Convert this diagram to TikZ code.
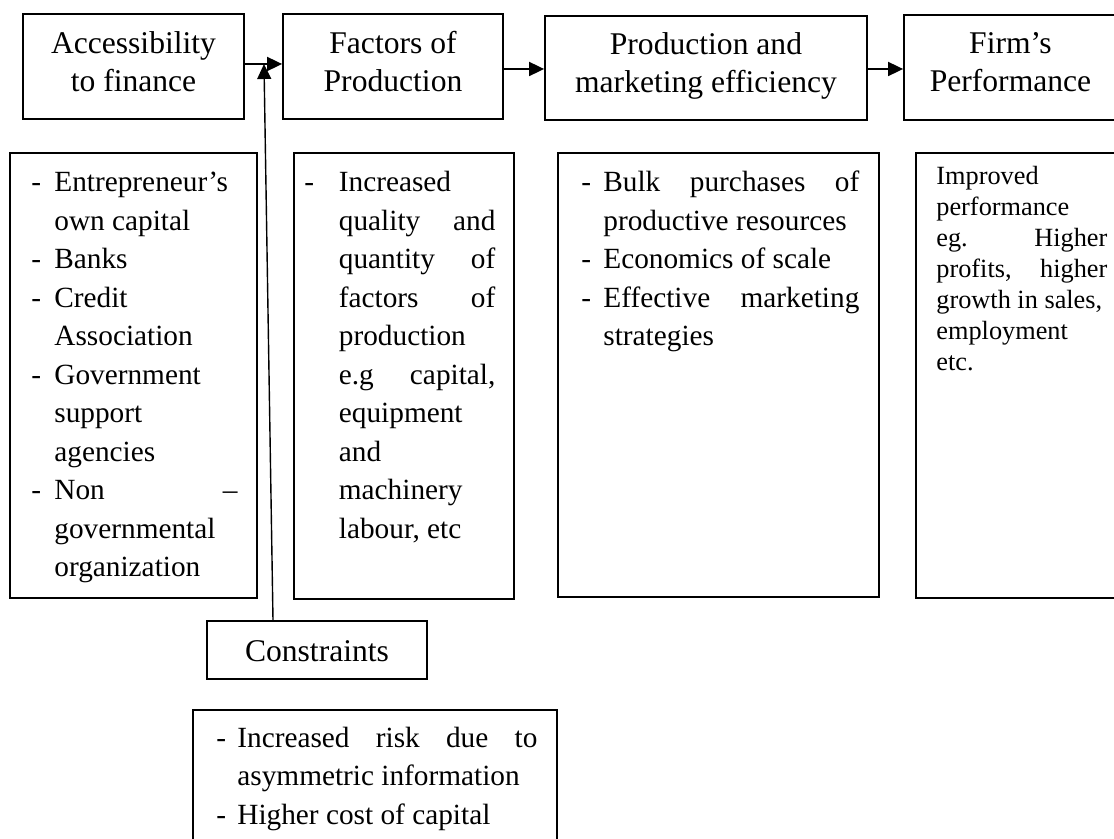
\documentclass[tikz,border=0pt]{standalone}
\usepackage{fontspec}
\setmainfont{Liberation Serif}
\usetikzlibrary{arrows.meta}
\newlength\mylw
\newlength\mybind
\newcommand\Ll[1]{\hbox to \mylw{#1\hfil}}
\newcommand\Jl[1]{\hbox to \mylw{#1}}
\newcommand\Cl[1]{\hbox to \mylw{\hfil#1\hfil}}
\newcommand\BLl[1]{\hbox to \mylw{\llap{\hbox to \mybind{-\hfil}}#1\hfil}}
\newcommand\BJl[1]{\hbox to \mylw{\llap{\hbox to \mybind{-\hfil}}#1}}
\newcommand\tblock[4]{\setlength\mylw{#1}\setlength\mybind{#2}\vtop{\baselineskip=#3\lineskiplimit=-20pt #4}}
\hbadness=10000
\tikzset{
  hdbox/.style={draw, line width=0.9pt, inner sep=0pt},
  lowbox/.style={draw, line width=0.7pt, inner sep=0pt},
  hdt/.style={inner sep=0pt, font=\fontsize{15.8pt}{19pt}\selectfont},
  lowt/.style={inner sep=0pt, font=\fontsize{14.65pt}{19.25pt}\selectfont},
  smallt/.style={inner sep=0pt, font=\fontsize{13.15pt}{15.5pt}\selectfont},
  arr/.style={line width=0.9pt, -{Triangle[length=7.5pt,width=7pt]}},
  varr/.style={line width=0.7pt, -{Triangle[length=7.5pt,width=7pt]}}
}
\begin{document}
\begin{tikzpicture}[x=0.5pt,y=-0.5pt]
\useasboundingbox (0,0) rectangle (1114,839);
\clip (0,0) rectangle (1114,839);
% header boxes
\node[hdbox, minimum width=110.5pt, minimum height=52.5pt] (A) at (133.5,66.5) {};
\node[hdbox, minimum width=110pt, minimum height=52.5pt] (B) at (393,66.5) {};
\node[hdbox, minimum width=161pt, minimum height=52pt] (C) at (706,68) {};
\node[hdbox, minimum width=106.5pt, minimum height=52.5pt] (D) at (1010.5,67.5) {};
\node[hdt, anchor=base] (tA) at (133.5,54) {\tblock{110pt}{0pt}{19pt}{\Cl{Accessibility}\Cl{to finance}}};
\node[hdt, anchor=base] (tB) at (393,54) {\tblock{110pt}{0pt}{19pt}{\Cl{Factors of}\Cl{Production}}};
\node[hdt, anchor=base] (tC) at (706,55) {\tblock{160pt}{0pt}{19pt}{\Cl{Production and}\Cl{marketing efficiency}}};
\node[hdt, anchor=base] (tD) at (1010.5,54) {\tblock{106pt}{0pt}{19pt}{\Cl{Firm’s}\Cl{Performance}}};
% lower boxes
\node[lowbox, minimum width=123.5pt, minimum height=222.5pt] (LA) at (133.5,375.5) {};
\node[lowbox, minimum width=110pt, minimum height=223pt] (LB) at (404,376) {};
\node[lowbox, minimum width=160.5pt, minimum height=222pt] (LC) at (718.5,375) {};
\node[lowbox, minimum width=102pt, minimum height=222.5pt] (LD) at (1018,375.5) {};
\node[lowt, anchor=base west] (tLA) at (54,192) {\tblock{91.5pt}{11.5pt}{19.25pt}{%
\BLl{Entrepreneur’s}\Ll{own capital}\BLl{Banks}\BLl{Credit}\Ll{Association}%
\BLl{Government}\Ll{support}\Ll{agencies}\BJl{Non –}\Ll{governmental}\Ll{organization}}};
\node[lowt, anchor=base west] (tLB) at (338.5,192) {\tblock{78.25pt}{17.25pt}{19.25pt}{%
\BLl{Increased}\Jl{quality and}\Jl{quantity of}\Jl{factors of}\Ll{production}%
\Jl{e.g capital,}\Ll{equipment}\Ll{and}\Ll{machinery}\Ll{labour, etc}}};
\node[lowt, anchor=base west] (tLC) at (603,192) {\tblock{128pt}{11pt}{19.25pt}{%
\BJl{Bulk purchases of}\Ll{productive resources}\BLl{Economics of scale}%
\BJl{Effective marketing}\Ll{strategies}}};
\node[smallt, anchor=base west] (tLD) at (936,185) {\tblock{85.5pt}{0pt}{15.5pt}{%
\Ll{Improved}\Ll{performance}\Jl{eg. Higher}\Jl{profits, higher}%
\Ll{growth in sales,}\Ll{employment}\Ll{etc.}}};
% constraints
\node[hdbox, minimum width=110pt, minimum height=29pt] (K) at (317,650) {};
\node[hdt, anchor=base] (tK) at (317,661) {Constraints};
\node[lowbox, line width=0.8pt, minimum width=182pt, minimum height=67.5pt] (KL) at (375,777.5) {};
\node[lowt, anchor=base west] (tKL) at (237,747) {\tblock{150pt}{10.5pt}{19.25pt}{%
\BJl{Increased risk due to}\Ll{asymmetric information}\BLl{Higher cost of capital}}};
% connectors
\coordinate (J) at (264,64);
\draw[arr] ([yshift=1.25pt]A.east) -- ([yshift=1.25pt]A.east -| B.west);
\draw[arr] ([yshift=-1.25pt]B.east) -- ([yshift=-1.25pt]B.east -| C.west);
\draw[arr] ([yshift=-0.5pt]C.east) -- ([yshift=-0.5pt]C.east -| D.west);
\draw[varr] ([xshift=-22pt]K.north) -- (J);
\end{tikzpicture}
\end{document}
